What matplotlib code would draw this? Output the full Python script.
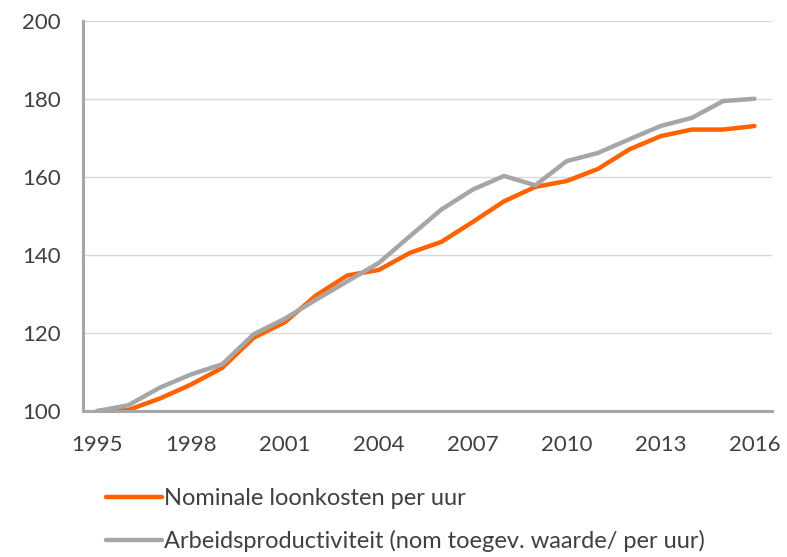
import matplotlib
matplotlib.use("Agg")
import matplotlib.pyplot as plt

# Index 1995 = 100
years = list(range(1995, 2017))
loonkosten = [100.0, 100.3, 103.2, 106.8, 111.1, 118.8, 122.8, 129.7, 134.8, 136.2,
              140.6, 143.4, 148.5, 153.8, 157.5, 159.0, 162.1, 167.1, 170.5, 172.2,
              172.2, 173.1]
productiviteit = [100.0, 101.5, 106.0, 109.4, 112.0, 119.7, 123.7, 128.6, 133.3, 138.0,
                  144.9, 151.7, 156.8, 160.3, 157.9, 164.1, 166.2, 169.7, 173.1, 175.2,
                  179.5, 180.1]
xticks = [1995, 1998, 2001, 2004, 2007, 2010, 2013, 2016]
yticks = [100, 120, 140, 160, 180, 200]

ORANJE = "#ff6200"
GRIJS = "#a6a6a6"
TEKST = "#404040"

plt.rcParams["font.family"] = ["Lato", "DejaVu Sans"]

fig = plt.figure(figsize=(7.87, 5.57), dpi=100)
ax = fig.add_axes([0.1055, 0.262, 0.875, 0.700])

ax.plot(years, loonkosten, color=ORANJE, linewidth=3.2, solid_capstyle="round",
        label="Nominale loonkosten per uur", zorder=3)
ax.plot(years, productiviteit, color=GRIJS, linewidth=3.2, solid_capstyle="round",
        label="Arbeidsproductiviteit (nom toegev. waarde/ per uur)", zorder=4)

ax.set_xlim(1994.55, 2016.55)
ax.set_ylim(100, 200)
ax.set_xticks(xticks)
ax.set_yticks(yticks)
ax.tick_params(length=0, labelsize=16, colors=TEKST)
ax.tick_params(axis="x", pad=17)
ax.tick_params(axis="y", pad=16)
ax.grid(axis="y", color="#d9d9d9", linewidth=1.0)
ax.set_axisbelow(True)
for side in ["top", "right"]:
    ax.spines[side].set_visible(False)
for side in ["left", "bottom"]:
    ax.spines[side].set_color(GRIJS)
    ax.spines[side].set_linewidth(2.2)
    ax.spines[side].set_zorder(5)

fig.legend(loc="center left", bbox_to_anchor=(0.12, 0.066), frameon=False,
           fontsize=17, labelcolor=TEKST, handlelength=2.35, handletextpad=0.08,
           labelspacing=0.88, borderpad=0)

fig.savefig("out.png", dpi=100)
